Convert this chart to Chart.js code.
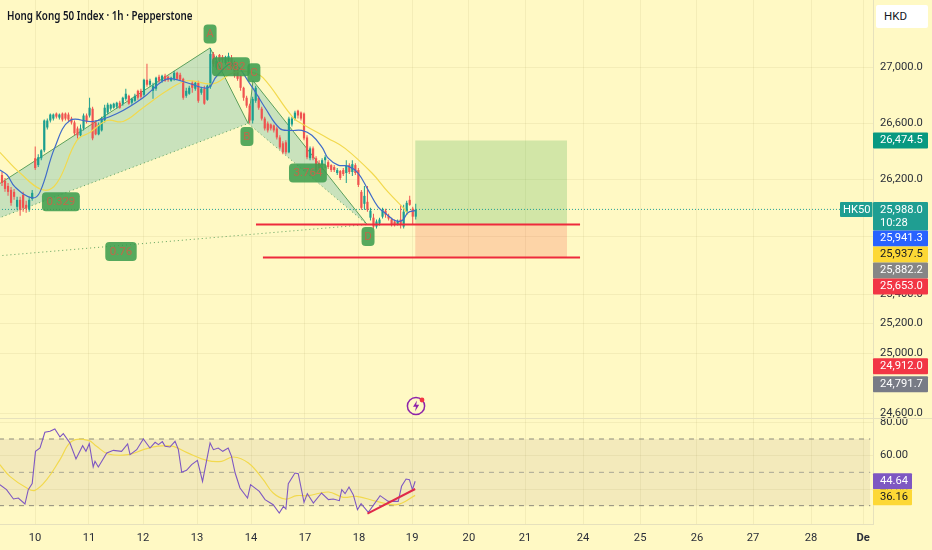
<!DOCTYPE html>
<html>
<head>
<meta charset="utf-8">
<title>Hong Kong 50 Index</title>
<script src="https://cdn.jsdelivr.net/npm/chart.js@4/dist/chart.umd.js"></script>
<style>
    html, body { margin: 0; padding: 0; background: #fff9c4; overflow: hidden; }
    #wrap { position: relative; width: 932px; height: 550px; }
    #title { position: absolute; left: 7px; top: 7px; font: 600 12px "Noto Sans", sans-serif; color: #131722; transform: scaleX(0.82); transform-origin: left top; white-space: nowrap; }
    #currency { position: absolute; left: 876px; top: 5px; width: 52px; height: 23px; line-height: 23px; background: #fff; border-radius: 2px; font: 11.5px/23px Roboto, sans-serif; color: #131722; text-indent: 8px; }
    #bolt { position: absolute; left: 406px; top: 394px; }
</style>
</head>
<body>
<div id="wrap">
    <canvas id="chart" width="932" height="550"></canvas>
    <div id="title">Hong Kong 50 Index · 1h · Pepperstone</div>
    <div id="currency">HKD</div>
    <svg id="bolt" width="22" height="24" viewBox="0 0 22 24">
        <circle cx="10" cy="12" r="8.6" fill="#fff9c4" stroke="#8e24aa" stroke-width="1.5"/>
        <path d="M11 6.5 L7 12.8 H10 L9 17.5 L13.2 10.8 H10.2 Z" fill="#8e24aa"/>
        <circle cx="16" cy="6" r="2.4" fill="#f23645"/>
    </svg>
</div>
<script>
"use strict";

// Hourly candles, one entry per bar
const opens = [26230,26188,26153,26125,26111,26006,26055,26090,26020,25986,26062,26349,26300,26349,26405,26568,26618,26632,26668,26639,26668,26668,26661,26632,26604,26561,26512,26561,26654,26654,26703,26604,26519,26547,26618,26675,26703,26710,26717,26746,26739,26774,26796,26746,26760,26832,26832,26803,26912,26876,26832,26847,26934,26905,26941,26934,26905,26919,26963,26948,26919,26796,26811,26890,26847,26890,26818,26847,26767,26861,27100,26999,27093,27079,27035,27050,27071,27035,26992,26941,26854,26782,26725,26618,26760,26782,26703,26632,26597,26590,26583,26561,26497,26455,26462,26391,26590,26632,26689,26675,26668,26497,26349,26419,26349,26314,26300,26335,26321,26300,26286,26244,26258,26265,26244,26300,26251,26300,26265,26111,26027,26041,25930,25930,25868,25889,25937,25979,25944,25917,25903,25882,25917,25868,25972,26055,25993,25937];
const highs = [26251,26209,26174,26146,26132,26076,26076,26111,26048,26076,26125,26433,26377,26412,26625,26632,26668,26668,26675,26668,26675,26675,26675,26646,26618,26575,26590,26668,26668,26782,26717,26618,26604,26646,26732,26746,26739,26746,26753,26760,26789,26847,26803,26782,26811,26840,26847,26919,27028,26919,26890,26934,26948,26948,26956,26941,26934,26977,26970,26963,26927,26854,26869,26905,26898,26905,26861,26869,26876,27144,27115,27086,27100,27093,27086,27108,27093,27050,27006,26948,26861,26796,26739,26789,26869,26796,26717,26646,26611,26597,26590,26575,26512,26469,26476,26646,26646,26689,26696,26682,26675,26512,26433,26433,26363,26335,26349,26370,26335,26307,26300,26279,26265,26279,26335,26314,26335,26314,26279,26125,26153,26153,25999,25958,25917,25930,25999,25993,25958,25930,25917,25917,26020,26020,26048,26083,26006,26027];
const lows = [26153,26111,26083,26013,26055,25986,25944,25972,25965,25972,26048,26265,26286,26335,26391,26554,26604,26618,26632,26625,26611,26618,26611,26590,26512,26490,26504,26547,26597,26639,26476,26512,26512,26540,26604,26661,26689,26703,26703,26703,26725,26760,26732,26732,26753,26767,26774,26789,26861,26861,26774,26832,26890,26890,26898,26898,26898,26905,26912,26905,26767,26782,26803,26818,26832,26746,26803,26732,26760,26847,27006,26985,27035,27035,27021,27035,26985,26927,26905,26832,26760,26710,26597,26597,26746,26696,26618,26547,26533,26547,26533,26483,26412,26377,26377,26384,26575,26618,26632,26618,26476,26342,26335,26335,26251,26251,26265,26279,26272,26251,26251,26230,26195,26223,26174,26237,26223,26230,26146,25986,25986,25972,25910,25855,25855,25875,25924,25930,25910,25868,25868,25875,25855,25855,25958,26013,25882,25917];
const closes = [26174,26132,26111,26034,26076,26055,25986,25999,25993,26055,26104,26279,26356,26405,26618,26618,26661,26661,26646,26661,26625,26632,26625,26604,26526,26512,26561,26654,26611,26710,26490,26519,26590,26632,26710,26732,26732,26739,26746,26710,26782,26811,26739,26774,26796,26782,26789,26912,26876,26905,26869,26927,26905,26941,26905,26912,26927,26963,26919,26912,26782,26832,26854,26854,26890,26760,26847,26739,26869,27100,27028,27050,27050,27057,27079,27086,26999,26941,26919,26854,26782,26725,26618,26774,26854,26710,26632,26561,26547,26561,26547,26497,26426,26391,26391,26632,26632,26675,26654,26632,26490,26356,26419,26349,26265,26279,26335,26356,26286,26265,26265,26265,26209,26237,26300,26251,26307,26244,26160,25999,26083,25986,25979,25868,25903,25917,25986,25951,25924,25882,25882,25903,25882,25972,26034,26020,25937,25988];

// Moving averages on the price pane (bar number, price)
const fastMaBars = [-0.7,1.7,4.3,9.9,12.6,17.5,22.5,30.1,38.1,46.7,53.3,56.6,62.3,68.2,71.2,76.5,82.1,87.1,92,95.4,99.3,102.6,106,108,111.3,114.6,117.9,121.2,124.5,127.5,130.1,132.5,134.4,136.8];
const fastMaValues = [26265,26230,26146,26069,26111,26426,26618,26611,26668,26782,26905,26919,26883,26854,26941,27028,26883,26710,26561,26547,26547,26512,26426,26349,26300,26293,26244,26125,26006,25951,25910,25910,25965,25979];
const slowMaBars = [-0.7,6,13.6,18.2,24.8,29.1,34.8,40.1,46.7,54.6,61.3,69.9,76.5,82.1,86.4,96.4,100.3,108,113.6,122.5,127.8,133.4,134.4];
const slowMaValues = [26391,26244,26125,26174,26476,26533,26618,26611,26710,26832,26905,26883,26963,26970,26927,26639,26583,26490,26419,26244,26111,25986,25951];

// XABCD pattern pivots
const patternBars = { X: -43.4, A: 68.9, B: 81.5, C: 83.1, D: 120.9 };
const patternPrices = { X: 25590, A: 27144, B: 26597, C: 26906, D: 25882 };
const patternLabels = ["A", "B", "0.382", "C", "D", "3.764", "0.329", "0.76"];
const patternLabelBars = [68.9, 81.1, 75.8, 83.4, 121.2, 101.3, 19.5, 39.4];
const patternLabelPrices = [27246, 26504, 27006, 26963, 25799, 26244, 26041, 25695];

// Long position tool
const positionBars = [136.8, 187.1];
const targetPrice = 26474.5;
const entryPrice = 25882.2;
const stopPrice = 25653;
const entryLineBars = [84.1, 191.4];
const stopLineBars = [86.4, 191.4];
const lastPrice = 25988;
const lastPriceLineBars = [-1, 277.5];

// RSI pane
const rsiBars = [-0.7,1.5,3.8,5.4,7.6,8.7,10,11.1,12.6,14.2,15.9,17.5,19.2,20.3,22.5,24.5,26.7,27.8,28.9,30.2,30.8,31.9,34.7,36.9,39.6,41.6,42.4,44.6,46.8,49,50.7,51.8,53.1,54,55.6,57.3,58.4,59.5,61.1,62.8,64.7,66.4,68.9,70,71.6,73.1,74.9,76,77.2,78.8,81.3,82.3,85.2,87.1,89.8,91.8,93.2,94,94.8,97,98.1,100,101.1,103.1,105.8,108.1,109.7,111.7,112.5,113.6,114.9,116.3,117.7,118.9,121.3,125.2,127.9,131.2,132.3,133.8,134.9,135.9,136.8];
const rsiValues = [42.6,39.6,34,34.6,31,39.6,43.2,62.6,64.6,74,74.6,76,71.2,73.2,67.6,58,66,62.6,67.2,53.2,56.6,53.2,61.6,63.2,62.6,67,60.6,63.6,70,64.6,68,66.6,68.4,65.6,65.2,68.6,63.6,50,51.2,54.6,57.2,44.6,67.6,63.6,64.6,62.6,64.6,59.6,49.6,40.6,34.6,42.6,38.6,33.6,30.6,25.6,29.6,28,43.2,49.6,49.2,32,37.2,31.6,37.6,33.6,34,33,39.6,37.2,41.2,36.6,27.6,31.2,26,36,32.6,32.6,41.6,46,45.6,39.6,44.64];
const rsiMaBars = [-0.7,2.6,8.2,10.9,14.8,19.2,23.1,28.6,31.3,35.2,41.8,46.8,51.2,56.7,61.1,67.8,72.7,76.6,81.6,86.5,89.8,93.7,97.6,101.4,108.1,113,117.4,124.1,130.7,136.8];
const rsiMaValues = [54.6,47.6,40.6,39.2,45.6,57.6,68.6,69.2,65.6,61,60.6,63.6,65.6,65.6,62,57.2,56.6,59.2,55.6,45.6,37.6,34,36,36,38.2,35,35.6,32.6,30.6,36.16];
const rsiLevels = [70, 50, 30];
const rsiTrendBars = [121, 136.8];
const rsiTrendValues = [25.2, 40];

// Axes
const priceTicks = [27000, 26600, 26200, 25800, 25400, 25200, 25000, 24600];
const rsiTicks = [80, 60, 40];
const dayLabels = ["10","11","12","13","14","17","18","19","20","21","24","25","26","27","28","De"];
const dayBars = [10.93,28.8,46.7,64.6,82.45,100.3,118.2,135.8,154.6,173.2,192.4,211.3,230.1,248.7,267.9,285.1];

// Price labels on the right edge
const priceTagValues = [26474.5, 25988, 25941.3, 25937.5, 25882.2, 25653, 24912, 24791.7];
const priceTagColors = ["#089981", "#1f9e92", "#2962ff", "#fdd835", "#868686", "#f23645", "#f23645", "#787b86"];
const rsiTagValues = [44.64, 36.16];
const rsiTagColors = ["#7e57c2", "#fdd835"];
const countdown = "10:28";

const UP = "#1b9e8f";
const DOWN = "#ef5350";
const AXIS_FONT = { family: "Roboto", size: 11.2 };
const PATTERN_LINE = "#5b9f5b";
const PATTERN_FILL = "rgba(60,170,170,0.28)";

const candleColors = closes.map((c, i) => (c >= opens[i] ? UP : DOWN));

function pts(xs, ys) {
    return xs.map((x, i) => ({ x: x, y: ys[i] }));
}

function pivots(names) {
    return names.map(n => ({ x: patternBars[n], y: patternPrices[n] }));
}

function lineSet(data, color, width, extra) {
    return Object.assign({
        type: "line", data: data, borderColor: color, borderWidth: width,
        pointRadius: 0, fill: false, order: 1
    }, extra);
}

function flat(xs, y) {
    return xs.map(x => ({ x: x, y: y }));
}

// Tick labels must not reserve extra room above or below the panes
function fitVertical(s) {
    s.width = 59;
    s.paddingTop = 0;
    s.paddingBottom = 0;
}

const datasets = [
    // Long position boxes
    lineSet(flat(positionBars, targetPrice), "transparent", 0, { fill: { value: entryPrice }, backgroundColor: "rgba(76,175,80,0.25)", order: 9 }),
    lineSet(flat(positionBars, stopPrice), "transparent", 0, { fill: { value: entryPrice }, backgroundColor: "rgba(244,67,54,0.2)", order: 9 }),
    // Pattern
    lineSet(pivots(["X", "A", "B"]), "transparent", 0, { fill: "shape", backgroundColor: PATTERN_FILL, order: 8 }),
    lineSet(pivots(["B", "C", "D"]), "transparent", 0, { fill: "shape", backgroundColor: PATTERN_FILL, order: 8 }),
    lineSet(pivots(["X", "A", "B", "C", "D"]), PATTERN_LINE, 1, { order: 7 }),
    lineSet(pivots(["X", "B", "D"]), PATTERN_LINE, 1, { borderDash: [1, 3], order: 7 }),
    lineSet(pivots(["X", "D"]), PATTERN_LINE, 1, { borderDash: [1, 3], order: 7 }),
    // Last price
    lineSet(flat(lastPriceLineBars, lastPrice), "#1f9e92", 1, { borderDash: [1, 2], order: 7 }),
    // Candles
    {
        type: "bar", data: closes.map((c, i) => ({ x: i, y: [lows[i], highs[i]] })),
        backgroundColor: candleColors, barThickness: 1, grouped: false, inflateAmount: 0, order: 6
    },
    {
        type: "bar", data: closes.map((c, i) => ({ x: i, y: [opens[i], c] })),
        backgroundColor: candleColors, barThickness: 2.2, grouped: false, inflateAmount: 0, order: 5
    },
    // Moving averages
    lineSet(pts(slowMaBars, slowMaValues), "#f2d94e", 1.2, { tension: 0.4, order: 4 }),
    lineSet(pts(fastMaBars, fastMaValues), "#3f6bc9", 1.2, { tension: 0.4, order: 3 }),
    // Levels
    lineSet(flat(entryLineBars, entryPrice), "#ee2a3c", 2, { order: 2 }),
    lineSet(flat(stopLineBars, stopPrice), "#ee2a3c", 2, { order: 2 }),
    // RSI pane
    lineSet(flat([-1, 287.5], rsiLevels[0]), "transparent", 0, { yAxisID: "rsi", fill: { value: rsiLevels[2] }, backgroundColor: "rgba(126,87,100,0.09)", order: 9 }),
    lineSet(flat([-1, 287.5], rsiLevels[0]), "#8c8a7c", 1, { yAxisID: "rsi", borderDash: [5, 5], order: 7 }),
    lineSet(flat([-1, 287.5], rsiLevels[1]), "#a9a695", 1, { yAxisID: "rsi", borderDash: [5, 5], order: 7 }),
    lineSet(flat([-1, 287.5], rsiLevels[2]), "#8c8a7c", 1, { yAxisID: "rsi", borderDash: [5, 5], order: 7 }),
    lineSet(pts(rsiMaBars, rsiMaValues), "#f2d94e", 1.2, { yAxisID: "rsi", tension: 0.4, order: 4 }),
    lineSet(pts(rsiBars, rsiValues), "#7e57c2", 1.1, { yAxisID: "rsi", order: 3 }),
    lineSet(pts(rsiTrendBars, rsiTrendValues), "#e0294a", 2, { yAxisID: "rsi", order: 2 })
];

function drawTag(ctx, left, top, width, height, color, lines, inset) {
    ctx.fillStyle = color;
    ctx.beginPath();
    ctx.roundRect(left, top, width, height, 1);
    ctx.fill();
    ctx.fillStyle = (color === "#fdd835") ? "#131722" : "#ffffff";
    ctx.font = "11.2px Roboto";
    ctx.textAlign = "left";
    ctx.textBaseline = "middle";
    lines.forEach((text, i) => ctx.fillText(text, left + inset, top + 8 + i * 13));
}

// Text badges of the drawing tool, sitting over the candles
const patternBadges = {
    id: "patternBadges",
    afterDatasetsDraw(chart) {
        const { ctx, scales } = chart;
        ctx.save();
        ctx.font = "11.5px Roboto";
        ctx.textAlign = "center";
        ctx.textBaseline = "middle";
        patternLabels.forEach((text, i) => {
            const cx = scales.x.getPixelForValue(patternLabelBars[i]);
            const cy = scales.y.getPixelForValue(patternLabelPrices[i]);
            const w = text.length === 1 ? 13 : ctx.measureText(text).width + 9;
            const h = 19;
            ctx.globalAlpha = 0.88;
            ctx.fillStyle = "#3f9d4f";
            ctx.beginPath();
            ctx.roundRect(cx - w / 2, cy - h / 2, w, h, 4);
            ctx.fill();
            ctx.globalAlpha = 1;
            ctx.fillStyle = "#c0694a";
            ctx.fillText(text, cx, cy + 0.5);
        });
        ctx.restore();
    }
};

// Value tags on the right axis, pushed down when they would overlap
const priceTags = {
    id: "priceTags",
    afterDraw(chart) {
        const { ctx, scales } = chart;
        const left = scales.y.left;
        ctx.save();
        let bottom = 0;
        priceTagValues.forEach((v, i) => {
            const isLast = v === lastPrice;
            const h = isLast ? 28.5 : 16;
            const top = Math.max(scales.y.getPixelForValue(v) - (isLast ? 7.5 : 8), bottom);
            const text = v.toLocaleString("en-US", { minimumFractionDigits: 1 });
            drawTag(ctx, left, top, 55, h, priceTagColors[i], isLast ? [text, countdown] : [text], 7);
            bottom = top + h;
        });
        const y = scales.y.getPixelForValue(lastPrice);
        drawTag(ctx, left - 33, y - 7.5, 32.5, 15, priceTagColors[1], ["HK50"], 3);
        bottom = 0;
        rsiTagValues.forEach((v, i) => {
            const top = Math.max(scales.rsi.getPixelForValue(v) - 8, bottom);
            drawTag(ctx, left, top, 39, 16, rsiTagColors[i], [v.toFixed(2)], 7);
            bottom = top + 16;
        });
        // Pane separator
        ctx.strokeStyle = "#e6e1bd";
        ctx.beginPath();
        ctx.moveTo(0, scales.rsi.top + 0.5);
        ctx.lineTo(chart.width, scales.rsi.top + 0.5);
        ctx.stroke();
        ctx.restore();
    }
};

new Chart(document.getElementById("chart"), {
    data: { datasets: datasets },
    plugins: [patternBadges, priceTags],
    options: {
        responsive: false,
        animation: false,
        layout: { padding: 0 },
        plugins: { legend: { display: false }, tooltip: { enabled: false } },
        scales: {
            x: {
                type: "linear",
                offset: false,
                bounds: "data",
                min: -0.66,
                max: 288.4,
                afterBuildTicks: s => { s.ticks = dayBars.map(v => ({ value: v })); },
                afterFit: s => { s.height = 26; s.paddingLeft = 0; s.paddingRight = 0; },
                grid: { offset: false, color: "rgba(120,100,40,0.08)", drawTicks: false },
                border: { color: "#e6e1bd" },
                ticks: {
                    autoSkip: false,
                    maxRotation: 0,
                    padding: 7,
                    color: "#2a2e39",
                    font: c => (dayLabels[c.index] === "De" ? { family: "Roboto", size: 11.2, weight: "bold" } : AXIS_FONT),
                    callback: (v, i) => dayLabels[i]
                }
            },
            y: {
                type: "logarithmic",
                position: "right",
                stack: "panes",
                stackWeight: 418,
                bounds: "data",
                min: 24567,
                max: 27497,
                afterBuildTicks: s => { s.ticks = priceTicks.map(v => ({ value: v })); },
                afterFit: fitVertical,
                grid: { color: "rgba(120,100,40,0.08)", drawTicks: false },
                border: { color: "#e6e1bd" },
                ticks: {
                    autoSkip: false,
                    padding: 7,
                    color: "#2a2e39",
                    font: AXIS_FONT,
                    callback: v => v.toLocaleString("en-US", { minimumFractionDigits: 1 })
                }
            },
            rsi: {
                type: "linear",
                position: "right",
                stack: "panes",
                stackWeight: 106,
                bounds: "data",
                min: 19,
                max: 82.6,
                afterBuildTicks: s => { s.ticks = rsiTicks.map(v => ({ value: v })); },
                afterFit: fitVertical,
                grid: { color: "rgba(120,100,40,0.08)", drawTicks: false },
                border: { color: "#e6e1bd" },
                ticks: {
                    autoSkip: false,
                    padding: 7,
                    color: "#2a2e39",
                    font: AXIS_FONT,
                    callback: v => v.toFixed(2)
                }
            }
        }
    }
});
</script>
</body>
</html>
